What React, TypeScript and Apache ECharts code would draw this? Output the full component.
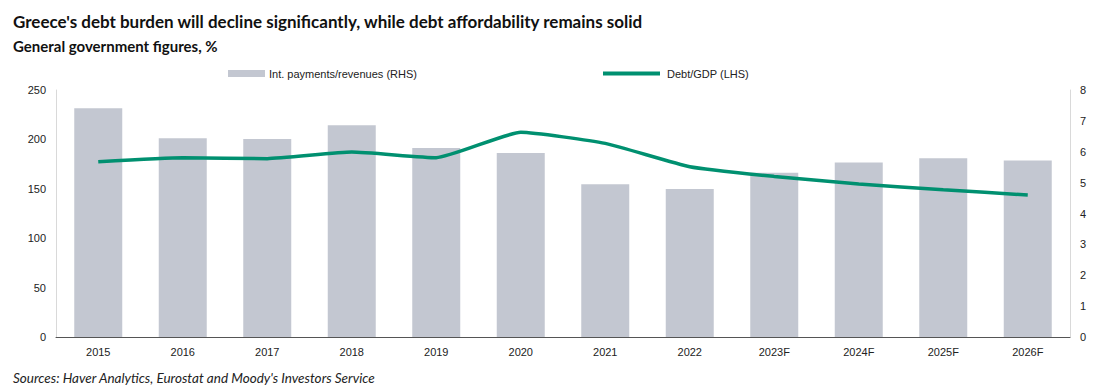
import React, { useEffect, useRef } from "react";
import * as echarts from "echarts";

const categories = ["2015", "2016", "2017", "2018", "2019", "2020", "2021", "2022", "2023F", "2024F", "2025F", "2026F"];
const intPaymentsRevenues = [7.41, 6.44, 6.41, 6.86, 6.12, 5.96, 4.95, 4.79, 5.32, 5.65, 5.79, 5.72];
const debtGdp = [177.4, 181.5, 180.5, 187.2, 181.5, 207.2, 196.0, 172.4, 162.5, 154.9, 149.0, 143.7];
const leftTicks = { min: 0, max: 250, interval: 50 };
const rightTicks = { min: 0, max: 8, interval: 1 };

const titleText = "Greece's debt burden will decline significantly, while debt affordability remains solid";
const subtitleText = "General government figures, %";
const sourceText = "Sources: Haver Analytics, Eurostat and Moody's Investors Service";

export default function App() {
  const ref = useRef<HTMLDivElement>(null);
  useEffect(() => {
    const chart = echarts.init(ref.current!, null, { renderer: "svg" });
    const axisFont = { fontFamily: "Liberation Sans, Arial, sans-serif", fontSize: 11, color: "#222" };
    chart.setOption({
      animation: false,
      backgroundColor: "#fff",
      title: [
        { text: titleText, left: 8, top: 8, textStyle: { fontFamily: "Lato", fontWeight: "bold", fontSize: 17, color: "#111" } },
        { text: subtitleText, left: 8, top: 33, textStyle: { fontFamily: "Lato", fontWeight: "bold", fontSize: 15, color: "#111" } },
        { text: sourceText, left: 8, top: 366, textStyle: { fontFamily: "Lato", fontStyle: "italic", fontWeight: "normal", fontSize: 13.5, color: "#222" } },
      ],
      legend: [
        { data: ["Int. payments/revenues (RHS)"], left: 228, top: 68, padding: 0, itemGap: 4, itemWidth: 37, itemHeight: 7, textStyle: { ...axisFont, padding: [0, 0, 0, -1] }, icon: "rect" },
        { data: ["Debt/GDP (LHS)"], left: 603, top: 68, padding: 0, itemWidth: 57, itemHeight: 4, textStyle: { ...axisFont, padding: [0, 0, 0, 2] }, icon: "rect" },
      ],
      grid: { left: 56, right: 32, top: 90, bottom: 51 },
      xAxis: {
        type: "category",
        data: categories,
        axisLine: { lineStyle: { color: "#555", width: 1 } },
        axisTick: { show: false },
        axisLabel: { ...axisFont, margin: 9 },
      },
      yAxis: [
        {
          type: "value",
          ...leftTicks,
          axisLine: { show: true, lineStyle: { color: "#d9d9d9" } },
          axisTick: { show: false },
          splitLine: { show: false },
          axisLabel: { ...axisFont, margin: 10 },
        },
        {
          type: "value",
          position: "right",
          ...rightTicks,
          axisLine: { show: true, lineStyle: { color: "#d9d9d9" } },
          axisTick: { show: false },
          splitLine: { show: false },
          axisLabel: { ...axisFont, margin: 10 },
        },
      ],
      series: [
        {
          name: "Int. payments/revenues (RHS)",
          type: "bar",
          yAxisIndex: 1,
          data: intPaymentsRevenues,
          barWidth: 48,
          itemStyle: { color: "#c3c7d1" },
        },
        {
          name: "Debt/GDP (LHS)",
          type: "line",
          yAxisIndex: 0,
          data: debtGdp,
          smooth: 0.15,
          symbol: "none",
          lineStyle: { color: "#009070", width: 3.5 },
          itemStyle: { color: "#009070" },
        },
      ],
    });
    return () => chart.dispose();
  }, []);
  return <div ref={ref} style={{ position: "fixed", left: 0, top: 0, width: 1102, height: 388 }} />;
}
